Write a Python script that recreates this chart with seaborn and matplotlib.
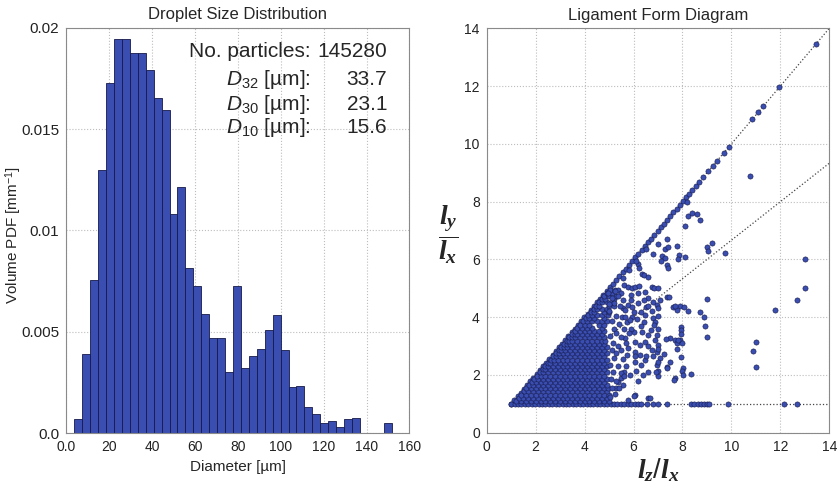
import numpy as np
import pandas as pd
import seaborn as sns
import matplotlib.pyplot as plt

# ---- droplet size histogram (volume PDF per 3.7 um bin) ----
bin_width = 3.7
first_edge = 3.7
volume_pdf = [0.00069, 0.00393, 0.00754, 0.01298, 0.01726, 0.01942, 0.01942, 0.01876,
              0.01874, 0.01789, 0.01655, 0.01593, 0.01082, 0.01212, 0.00816, 0.00728,
              0.00587, 0.00470, 0.00470, 0.00303, 0.00728, 0.00323, 0.00382, 0.00416,
              0.00508, 0.00585, 0.00413, 0.00228, 0.00232, 0.00131, 0.00096, 0.00051,
              0.00059, 0.00033, 0.00070, 0.00075, 0.0, 0.0, 0.0, 0.00052]

stat_labels = ['No. particles:', r'$\mathsf{D}_{32}$ [µm]:', r'$\mathsf{D}_{30}$ [µm]:', r'$\mathsf{D}_{10}$ [µm]:']
stat_values = ['145280', '33.7', '23.1', '15.6']

# ---- ligament form diagram ----
# points on the l_y = l_z edge
diag_l = [1.00, 1.13, 1.26, 1.39, 1.52, 1.65, 1.78, 1.91, 2.04, 2.17, 2.30, 2.43, 2.56, 2.69,
          2.82, 2.95, 3.08, 3.21, 3.34, 3.47, 3.60, 3.73, 3.86, 3.99, 4.12, 4.25, 4.38, 4.51,
          4.64, 4.77, 4.90, 5.03, 5.16, 5.29, 5.42, 5.55, 5.68, 5.81, 5.94, 6.07, 6.20, 6.33,
          6.46, 6.59, 6.72, 6.85, 6.98, 7.11, 7.24, 7.37, 7.50, 7.63, 7.76, 7.89, 8.02, 8.15,
          8.28, 8.41, 8.54, 8.67, 8.85, 9.05, 9.25, 9.40, 9.70, 9.90, 10.85, 11.10, 11.30,
          11.96, 13.46]

# points on the l_y = l_x floor
floor_lz = [1.00, 1.14, 1.28, 1.42, 1.56, 1.70, 1.84, 1.98, 2.12, 2.26, 2.40, 2.54, 2.68, 2.82,
            2.96, 3.10, 3.24, 3.38, 3.52, 3.66, 3.80, 3.94, 4.08, 4.22, 4.36, 4.50, 4.64, 4.78,
            4.92, 5.06, 5.20, 5.34, 5.48, 5.62, 5.76, 5.90, 6.04, 6.18, 6.32, 6.55, 6.81, 6.99,
            7.38, 8.33, 8.47, 8.62, 8.76, 8.88, 8.99, 9.10, 9.87, 12.15, 12.69]

# dense cloud, read row by row (l_y: list of l_z)
dense_rows = {
    1.10: [1.2, 1.4, 1.6, 1.8, 2.0, 2.2, 2.4, 2.6, 2.8, 3.0, 3.2, 3.4, 3.6, 3.8, 4.0, 4.2, 4.4, 4.6, 4.8, 5.0],
    1.21: [1.3, 1.5, 1.7, 1.9, 2.1, 2.3, 2.5, 2.7, 2.9, 3.1, 3.3, 3.5, 3.7, 3.9, 4.1, 4.3, 4.5, 4.7, 4.9],
    1.32: [1.4, 1.6, 1.8, 2.0, 2.2, 2.4, 2.6, 2.8, 3.0, 3.2, 3.4, 3.6, 3.8, 4.0, 4.2, 4.4, 4.6, 4.8, 5.0],
    1.43: [1.51, 1.7, 1.9, 2.1, 2.3, 2.5, 2.7, 2.9, 3.1, 3.3, 3.5, 3.7, 3.9, 4.1, 4.3, 4.5, 4.7, 4.9],
    1.54: [1.62, 1.8, 2.0, 2.2, 2.4, 2.6, 2.8, 3.0, 3.2, 3.4, 3.6, 3.8, 4.0, 4.2, 4.4, 4.6, 4.8, 4.95],
    1.65: [1.73, 1.9, 2.1, 2.3, 2.5, 2.7, 2.9, 3.1, 3.3, 3.5, 3.7, 3.9, 4.1, 4.3, 4.5, 4.7, 4.9],
    1.76: [1.84, 2.0, 2.2, 2.4, 2.6, 2.8, 3.0, 3.2, 3.4, 3.6, 3.8, 4.0, 4.2, 4.4, 4.6, 4.8],
    1.87: [1.95, 2.1, 2.3, 2.5, 2.7, 2.9, 3.1, 3.3, 3.5, 3.7, 3.9, 4.1, 4.3, 4.5, 4.7, 4.9],
    1.98: [2.06, 2.2, 2.4, 2.6, 2.8, 3.0, 3.2, 3.4, 3.6, 3.8, 4.0, 4.2, 4.4, 4.6, 4.8],
    2.09: [2.17, 2.3, 2.5, 2.7, 2.9, 3.1, 3.3, 3.5, 3.7, 3.9, 4.1, 4.3, 4.5, 4.7, 4.9],
    2.20: [2.28, 2.4, 2.6, 2.8, 3.0, 3.2, 3.4, 3.6, 3.8, 4.0, 4.2, 4.4, 4.6, 4.8],
    2.31: [2.39, 2.5, 2.7, 2.9, 3.1, 3.3, 3.5, 3.7, 3.9, 4.1, 4.3, 4.5, 4.7, 4.9],
    2.42: [2.50, 2.6, 2.8, 3.0, 3.2, 3.4, 3.6, 3.8, 4.0, 4.2, 4.4, 4.6, 4.8],
    2.53: [2.61, 2.75, 2.9, 3.1, 3.3, 3.5, 3.7, 3.9, 4.1, 4.3, 4.5, 4.7, 4.9],
    2.64: [2.72, 2.85, 3.0, 3.2, 3.4, 3.6, 3.8, 4.0, 4.2, 4.4, 4.6, 4.8],
    2.75: [2.83, 2.95, 3.1, 3.3, 3.5, 3.7, 3.9, 4.1, 4.3, 4.5, 4.7, 4.9],
    2.86: [2.94, 3.05, 3.2, 3.4, 3.6, 3.8, 4.0, 4.2, 4.4, 4.6, 4.8],
    2.97: [3.05, 3.17, 3.3, 3.5, 3.7, 3.9, 4.1, 4.3, 4.5, 4.7, 4.9],
    3.08: [3.16, 3.28, 3.4, 3.6, 3.8, 4.0, 4.2, 4.4, 4.6, 4.8],
    3.19: [3.27, 3.38, 3.5, 3.7, 3.9, 4.1, 4.3, 4.5, 4.7, 4.85],
    3.30: [3.38, 3.49, 3.6, 3.8, 4.0, 4.2, 4.4, 4.6, 4.8],
    3.41: [3.49, 3.6, 3.7, 3.9, 4.1, 4.3, 4.5, 4.7],
    3.52: [3.60, 3.8, 4.0, 4.2, 4.4, 4.6, 4.8],
    3.63: [3.71, 3.9, 4.1, 4.3, 4.7],
    3.74: [3.82, 4.0, 4.2, 4.6, 4.8],
    3.85: [3.93, 4.1, 4.3, 4.5, 4.7, 4.9],
    3.96: [4.04, 4.2, 4.4, 4.8],
    4.07: [4.15, 4.3, 4.5, 4.7, 4.95],
    4.18: [4.26, 4.4, 4.8, 5.0],
    4.29: [4.37, 4.5, 4.7, 4.9],
    4.40: [4.48, 4.6, 5.0, 5.2],
    4.51: [4.59, 4.7, 4.9, 5.1],
    4.62: [4.70, 4.85, 5.2],
    4.73: [4.81, 5.0, 5.3],
    4.84: [4.92, 5.1],
    4.95: [5.03, 5.25],
}

# scattered ligaments outside the dense cloud (l_z, l_y)
sparse_pts = [
    (10.76, 8.90), (8.17, 7.98), (8.24, 7.50), (8.40, 7.60), (8.60, 7.58), (8.70, 7.37), (8.10, 7.15),
    (7.38, 6.70), (6.99, 6.52), (7.76, 6.47), (7.30, 6.36), (7.42, 6.43), (6.81, 6.17), (7.18, 6.13),
    (7.29, 6.04), (7.12, 5.94), (7.85, 6.15), (8.10, 6.07), (7.36, 5.80), (7.42, 5.71), (7.83, 6.00),
    (8.99, 6.44), (9.19, 6.58), (9.06, 6.30), (9.74, 6.21),
    (6.20, 5.83), (6.24, 5.69), (6.33, 5.48), (6.44, 5.46), (6.58, 5.40),
    (5.62, 5.11), (5.76, 5.04), (5.92, 5.00), (6.06, 5.05), (6.22, 5.08), (6.74, 5.05), (6.85, 5.00),
    (6.99, 5.02), (5.38, 4.94), (5.49, 4.83), (5.90, 4.77), (6.17, 4.83), (6.47, 4.88), (7.36, 4.71),
    (6.60, 4.65), (6.44, 4.59), (6.81, 4.51), (6.94, 4.42), (6.20, 4.48), (6.53, 4.36), (7.62, 4.36),
    (7.89, 4.40), (7.76, 4.25), (5.76, 4.42), (5.59, 4.30), (6.03, 4.19), (6.30, 4.17), (6.47, 4.08),
    (6.74, 4.21), (6.81, 3.96), (6.88, 3.84), (6.85, 3.73), (5.52, 4.02), (5.72, 3.84), (6.44, 3.84),
    (6.33, 3.49), (6.58, 3.38), (6.94, 3.38), (6.88, 3.21), (7.49, 3.27), (7.70, 3.21), (7.90, 3.21),
    (7.76, 3.09), (6.06, 3.15), (6.26, 3.03), (5.65, 3.27), (5.79, 2.92), (6.06, 2.81), (6.74, 2.86),
    (6.94, 2.81), (6.81, 2.64), (7.08, 2.58), (6.47, 2.52), (6.06, 2.46), (7.36, 2.29), (6.94, 2.34),
    (7.49, 2.46), (7.70, 1.88), (8.04, 2.23), (5.61, 2.11), (5.84, 2.00), (5.47, 1.88), (5.38, 1.77),
    (5.58, 1.65), (5.30, 1.54), (6.06, 1.30), (5.79, 1.13), (6.58, 1.19),
    (13.00, 6.00), (13.00, 5.00), (12.69, 4.59), (11.78, 4.25), (11.00, 3.13), (10.87, 2.83),
    (10.99, 2.29), (8.99, 4.62), (8.90, 4.00), (8.93, 3.70), (8.99, 3.30), (8.72, 4.18), (8.24, 4.20),
    (8.07, 4.35), (7.69, 4.39), (7.96, 3.66), (7.94, 3.55), (7.94, 3.40), (8.00, 3.10), (7.83, 3.20),
    (7.33, 3.26), (7.76, 2.90), (7.96, 2.62), (8.00, 2.14), (8.04, 1.99), (8.34, 2.04), (7.65, 1.82),
    (7.25, 2.72), (7.38, 2.24), (7.08, 4.59), (7.46, 4.71), (6.99, 4.30), (6.99, 4.05), (6.99, 3.60),
    (6.99, 3.05), (6.99, 2.90), (6.99, 2.45), (6.99, 2.15), (6.99, 1.95), (6.68, 1.20), (6.03, 1.27),
    (6.90, 2.10), (6.60, 2.10), (6.40, 2.00), (6.20, 1.80), (6.10, 2.15), (6.30, 2.35), (6.50, 2.65),
    (6.30, 3.70), (6.15, 3.95), (6.00, 3.50), (6.45, 3.15), (6.60, 3.00), (6.25, 2.70), (6.05, 2.65),
    (5.90, 3.60), (5.95, 4.00), (6.70, 3.55), (6.60, 4.40),
    (5.05, 1.25), (5.12, 1.55), (5.08, 1.85), (5.15, 2.10), (5.05, 2.35), (5.20, 2.60), (5.10, 2.85),
    (5.18, 3.10), (5.05, 3.35), (5.20, 3.60), (5.10, 3.85), (4.98, 4.20), (5.25, 1.35), (5.30, 1.80),
    (5.35, 2.30), (5.28, 2.75), (5.35, 3.00), (5.30, 3.45), (5.40, 3.75), (5.30, 4.05), (5.45, 4.40),
    (5.40, 1.55), (5.50, 2.05), (5.55, 2.55), (5.50, 2.85), (5.48, 3.30), (5.60, 3.60), (5.65, 4.00),
    (5.55, 4.60), (5.70, 2.30), (5.75, 2.70), (5.70, 3.10), (5.80, 3.45), (5.85, 3.90), (5.95, 4.35),
    (5.90, 4.60), (5.62, 1.95), (5.35, 4.75), (5.20, 4.50), (5.65, 4.25), (5.00, 4.45), (5.10, 4.65),
    (5.25, 4.90), (5.55, 5.35), (5.80, 5.62), (6.10, 5.95), (6.50, 6.35), (4.95, 4.82),
]

# guide lines: l_y = l_z, l_y = 2/3 l_z, l_y = l_x
guide_lz = [[1.0, 14.0], [1.5, 14.0], [1.0, 14.0]]
guide_ly = [[1.0, 14.0], [1.0, 9.33], [1.0, 1.0]]

sparse_lz = [p[0] for p in sparse_pts]
sparse_ly = [p[1] for p in sparse_pts]
dense_lz = [x for y, row in dense_rows.items() for x in row]
dense_ly = [y for y, row in dense_rows.items() for x in row]

lig = pd.DataFrame({
    'lz': diag_l + floor_lz + dense_lz + sparse_lz,
    'ly': diag_l + [1.0] * len(floor_lz) + dense_ly + sparse_ly,
})

edges = first_edge + bin_width * np.arange(len(volume_pdf) + 1)
hist = pd.DataFrame({'diameter': edges[:-1] + bin_width / 2, 'pdf': volume_pdf})

BLUE = '#3a4db0'
EDGE = '#151a4a'

sns.set_style('whitegrid', {'grid.linestyle': ':', 'grid.color': '#bdbdbd',
                            'axes.edgecolor': '#8a8a8a'})
plt.rcParams['font.family'] = ['Liberation Sans', 'DejaVu Sans']
plt.rcParams['mathtext.fontset'] = 'custom'
plt.rcParams['mathtext.rm'] = 'Liberation Sans'
plt.rcParams['mathtext.sf'] = 'Liberation Sans:italic'
plt.rcParams['mathtext.it'] = 'Liberation Serif:italic:bold'
plt.rcParams['mathtext.bf'] = 'Liberation Serif:bold'

fig = plt.figure(figsize=(8.38, 4.88), dpi=100)
ax1 = fig.add_axes([0.0792, 0.1121, 0.4094, 0.8314])
ax2 = fig.add_axes([0.5808, 0.1133, 0.4088, 0.8287])

# left: histogram
sns.histplot(data=hist, x='diameter', weights='pdf', bins=list(edges), ax=ax1, color=BLUE,
             edgecolor=EDGE, linewidth=0.6, alpha=1)
ax1.set_xlim(0, 160)
ax1.set_ylim(0, 0.02)
ax1.set_xticks(np.arange(0, 161, 20))
ax1.set_xticklabels(['0.0'] + [str(v) for v in range(20, 161, 20)])
ax1.set_yticks([0, 0.005, 0.01, 0.015, 0.02])
ax1.set_yticklabels(['0.0', '0.005', '0.01', '0.015', '0.02'])
ax1.set_xlabel('Diameter [µm]', fontsize=11, labelpad=4)
ax1.set_ylabel('Volume PDF [mm$^{-1}$]', fontsize=11, va='center')
ax1.yaxis.set_label_coords(-0.155, 0.49)
ax1.set_title('Droplet Size Distribution', fontsize=12, pad=6)

row_y = [0.927, 0.8585, 0.797, 0.741]
for lab, val, yy in zip(stat_labels, stat_values, row_y):
    ax1.text(0.712, yy, lab, transform=ax1.transAxes, ha='right', va='baseline', fontsize=15)
    ax1.text(0.935, yy, val, transform=ax1.transAxes, ha='right', va='baseline', fontsize=15)

# right: ligament form diagram
for gx, gy in zip(guide_lz, guide_ly):
    ax2.plot(gx, gy, ls=':', lw=0.9, color='#444444', zorder=1)
sns.scatterplot(data=lig, x='lz', y='ly', ax=ax2, s=14, color=BLUE,
                edgecolor=EDGE, linewidth=0.4, zorder=2, legend=False)
ax2.set_xlim(0, 14)
ax2.set_ylim(0, 14)
ax2.set_xticks(range(0, 15, 2))
ax2.set_yticks(range(0, 15, 2))
ax2.set_title('Ligament Form Diagram', fontsize=12, pad=6)
ax2.set_xlabel(r'$l_z/l_x$', fontsize=20, va='center')
ax2.set_ylabel(r'$\dfrac{l_y}{l_x}$', fontsize=20, rotation=0, ha='center', va='center')
ax2.xaxis.set_label_coords(0.5, -0.093)
ax2.yaxis.set_label_coords(-0.113, 0.49)

for ax in (ax1, ax2):
    ax.tick_params(length=0, labelsize=10, pad=5, colors='#222222')
    for sp in ax.spines.values():
        sp.set_linewidth(0.8)
        sp.set_color('#8a8a8a')
ax1.tick_params(axis='y', labelsize=11)

fig.savefig('out.png', dpi=100)
